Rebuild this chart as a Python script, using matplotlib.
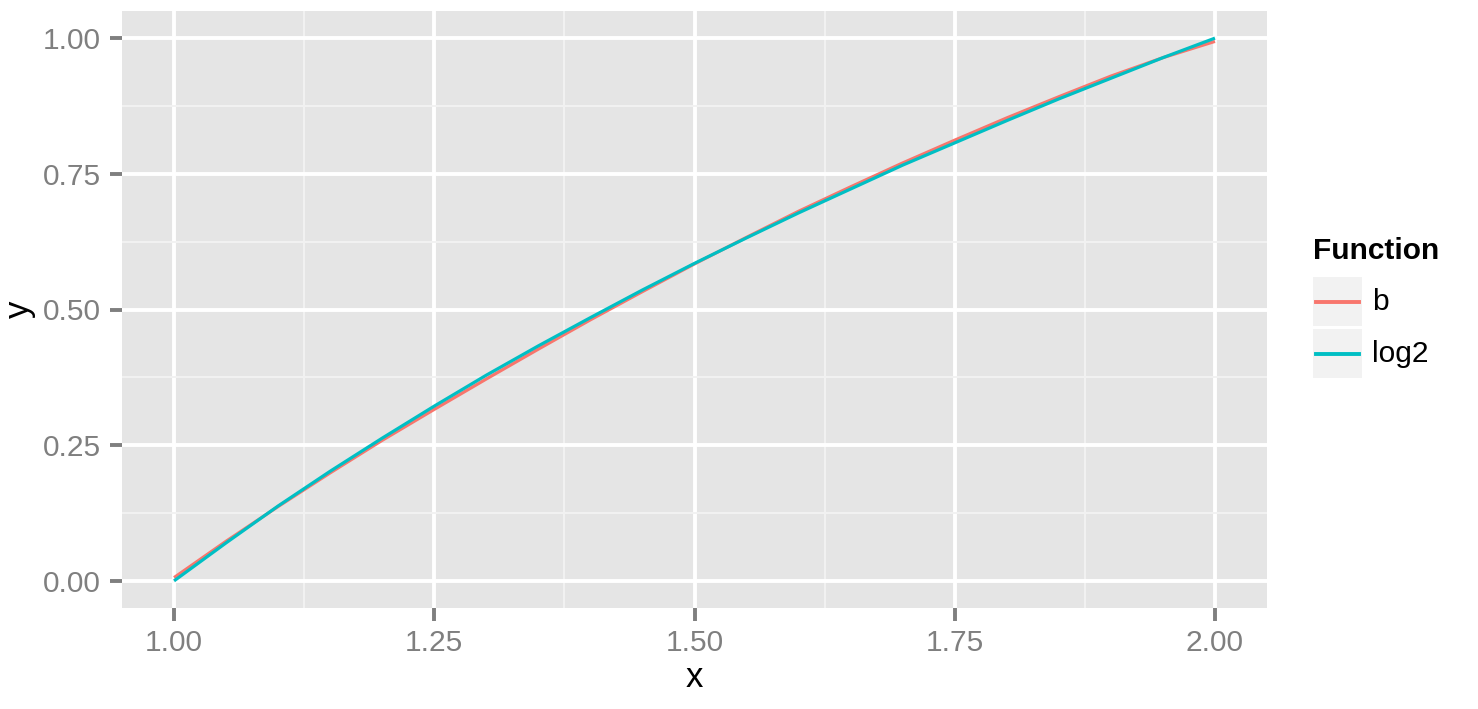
import numpy as np
import matplotlib as mpl
from matplotlib import pyplot as plt
from matplotlib.patches import Rectangle
from matplotlib.lines import Line2D

mpl.rcParams["font.family"] = ["Liberation Sans", "DejaVu Sans"]

# values
x_vals = [1.00, 1.05, 1.10, 1.15, 1.20, 1.25, 1.30, 1.35, 1.40, 1.45, 1.50,
          1.55, 1.60, 1.65, 1.70, 1.75, 1.80, 1.85, 1.90, 1.95, 2.00]
b_vals = [0.006, 0.073, 0.137, 0.199, 0.259, 0.316, 0.372, 0.427, 0.481, 0.533, 0.584,
          0.633, 0.681, 0.726, 0.770, 0.812, 0.853, 0.892, 0.930, 0.964, 0.994]
log2_vals = [0.000, 0.070, 0.138, 0.202, 0.263, 0.322, 0.379, 0.433, 0.485, 0.536, 0.585,
             0.632, 0.678, 0.722, 0.766, 0.807, 0.848, 0.888, 0.926, 0.964, 1.000]
series_names = ["b", "log2"]
series_colors = ["#F8766D", "#00BFC4"]
x_ticks = [1.00, 1.25, 1.50, 1.75, 2.00]
y_ticks = [0.00, 0.25, 0.50, 0.75, 1.00]

W, H = 1478, 709


def fx(px):
    return px / W


def fy(py):
    return 1 - py / H


fig = plt.figure(figsize=(W / 100, H / 100), dpi=100)
ax = fig.add_axes([fx(122), fy(608), fx(1267) - fx(122), fy(11) - fy(608)])
ax.set_facecolor("#E5E5E5")
for s in ax.spines.values():
    s.set_visible(False)

for name, ys, c in zip(series_names, [b_vals, log2_vals], series_colors):
    ax.plot(x_vals, ys, color=c, linewidth=2.3, solid_capstyle="butt", label=name, zorder=3)

ax.set_xlim(0.95, 2.05)
ax.set_ylim(-0.05, 1.05)
ax.set_xticks(x_ticks)
ax.set_yticks(y_ticks)
ax.set_xticklabels(["%.2f" % v for v in x_ticks])
ax.set_yticklabels(["%.2f" % v for v in y_ticks])
ax.set_xticks([1.125, 1.375, 1.625, 1.875], minor=True)
ax.set_yticks([0.125, 0.375, 0.625, 0.875], minor=True)
ax.grid(True, which="major", color="white", linewidth=2.8)
ax.grid(True, which="minor", color="#F2F2F2", linewidth=1.4)
ax.set_axisbelow(True)
ax.tick_params(axis="both", which="major", length=9, width=2.8, color="#7F7F7F",
               labelcolor="#7F7F7F", labelsize=21.5, pad=6)
ax.tick_params(axis="both", which="minor", length=0)

ax.set_xlabel("x", fontsize=25, labelpad=3)
ax.set_ylabel("y", fontsize=25, labelpad=5)

# legend drawn by hand, ggplot style
fig.text(fx(1313), fy(251), "Function", fontsize=21.5, fontweight="bold", va="center", ha="left")
key_tops = [277, 329]
for name, c, top in zip(series_names, series_colors, key_tops):
    fig.patches.append(Rectangle((fx(1313), fy(top + 49)), fx(49), fy(0) - fy(49),
                                 transform=fig.transFigure, facecolor="#F2F2F2",
                                 edgecolor="none"))
    fig.lines.append(Line2D([fx(1316), fx(1359)], [fy(top + 24.5)] * 2,
                            transform=fig.transFigure, color=c, linewidth=2.8))
    fig.text(fx(1372), fy(top + 24.5), name, fontsize=21.5, va="center", ha="left")

fig.savefig("out.png", dpi=100)
